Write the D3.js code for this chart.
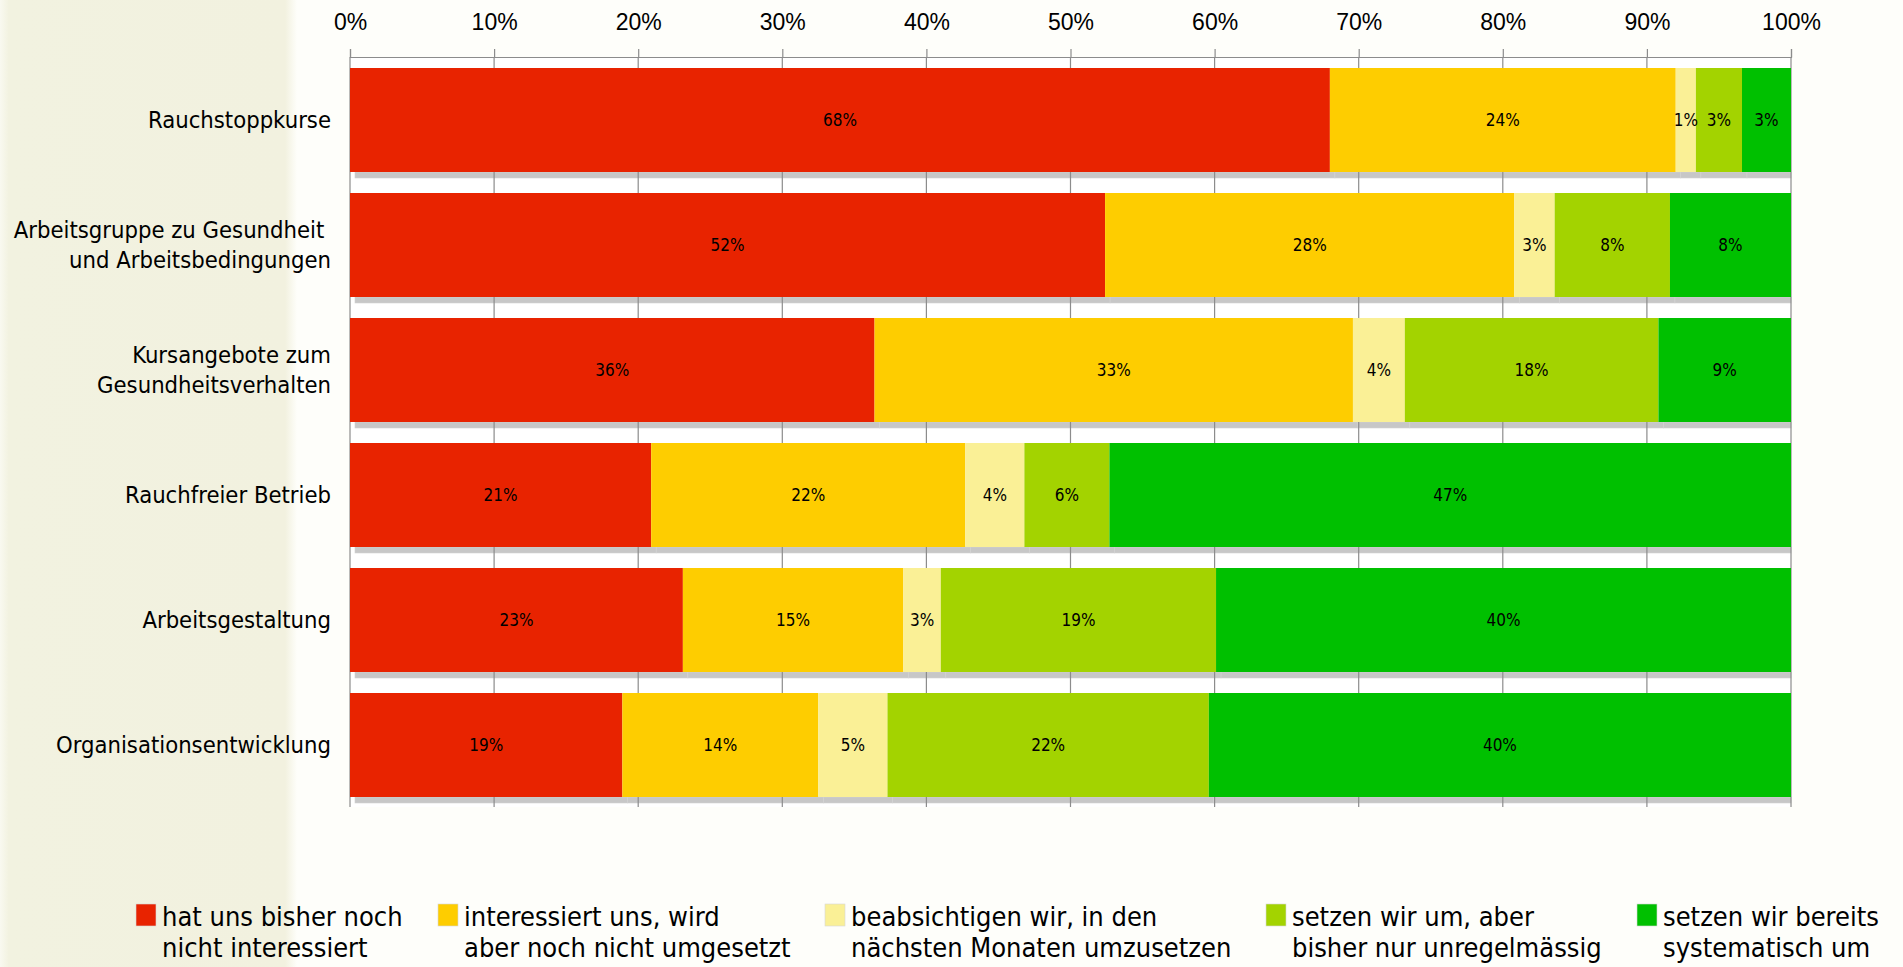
<!DOCTYPE html>
<html>
<head>
<meta charset="utf-8">
<script src="https://cdn.jsdelivr.net/npm/d3@7"></script>
<style>
  html, body { margin: 0; padding: 0; background: #fefefa; }
  svg { display: block; font-family: "DejaVu Sans Condensed", "DejaVu Sans", sans-serif; font-stretch: condensed; }
</style>
</head>
<body>
<svg id="chart" width="1903" height="967"></svg>
<script>
const categories = [
    ["Rauchstoppkurse"],
    ["Arbeitsgruppe zu Gesundheit ", "und Arbeitsbedingungen"],
    ["Kursangebote zum", "Gesundheitsverhalten"],
    ["Rauchfreier Betrieb"],
    ["Arbeitsgestaltung"],
    ["Organisationsentwicklung"]
];
const seriesNames = [
    ["hat uns bisher noch", "nicht interessiert"],
    ["interessiert uns, wird", "aber noch nicht umgesetzt"],
    ["beabsichtigen wir, in den", "nächsten Monaten umzusetzen"],
    ["setzen wir um, aber", "bisher nur unregelmässig"],
    ["setzen wir bereits", "systematisch um"]
];
const colors = ["#e82300", "#fecd00", "#faf096", "#a3d300", "#00c000"];
// one row per category, one value (%) per series
const values = [
    [68.0, 24.0, 1.4, 3.2, 3.4],
    [52.4, 28.4, 2.8, 8.0, 8.4],
    [36.4, 33.2, 3.6, 17.6, 9.2],
    [20.9, 21.8, 4.1, 5.9, 47.3],
    [23.1, 15.3, 2.6, 19.1, 39.9],
    [18.9, 13.6, 4.8, 22.3, 40.4]
];
const ticks = [0, 10, 20, 30, 40, 50, 60, 70, 80, 90, 100];

const svg = d3.select("#chart");

// beige label panel
const defs = svg.append("defs");
const grad = defs.append("linearGradient").attr("id", "panel");
grad.append("stop").attr("offset", "0%").attr("stop-color", "#f9f9f0");
grad.append("stop").attr("offset", "3%").attr("stop-color", "#f2f2e0");
grad.append("stop").attr("offset", "96%").attr("stop-color", "#f2f1df");
grad.append("stop").attr("offset", "100%").attr("stop-color", "#fefefa");
svg.append("rect").attr("x", 0).attr("y", 0).attr("width", 297).attr("height", 967)
    .attr("fill", "url(#panel)");

const x = d3.scaleLinear().domain([0, 100]).range([350, 1791]);
const y = d3.scaleBand()
    .domain(d3.range(categories.length))
    .range([68, 797])
    .paddingInner(21 / 125)
    .paddingOuter(0);

const gridTop = 57, gridBottom = 807;

svg.append("rect")
    .attr("x", x(0)).attr("y", gridTop)
    .attr("width", x(100) - x(0)).attr("height", gridBottom - gridTop)
    .attr("fill", "#ffffff");

const stacked = values.map((row, i) => {
    let acc = 0;
    return row.map((v, j) => {
        const seg = { row: i, series: j, x0: acc, x1: acc + v, v: v };
        acc += v;
        return seg;
    });
}).flat();

// shadows under bars, cut at the right edge of the plot
svg.append("g").selectAll("rect")
    .data(stacked)
    .join("rect")
    .attr("x", d => x(d.x0) + 5)
    .attr("y", d => y(d.row) + y.bandwidth())
    .attr("width", d => Math.max(0, Math.min(x(d.x1) + 5, x(100)) - x(d.x0) - 5))
    .attr("height", 6)
    .attr("fill", "#c7c7c7")
    .attr("stroke", "#d2d2d2")
    .attr("stroke-width", 0.6);

// gridlines
svg.append("g").selectAll("line")
    .data(ticks)
    .join("line")
    .attr("x1", d => x(d)).attr("x2", d => x(d))
    .attr("y1", gridTop).attr("y2", gridBottom)
    .attr("stroke", "#8c8c8c")
    .attr("stroke-width", 1.2);

// top axis
const axis = svg.append("g")
    .attr("transform", `translate(0,${gridTop})`)
    .call(d3.axisTop(x)
        .tickValues(ticks)
        .tickSize(8)
        .tickPadding(19)
        .tickFormat(d => d + "%"));
axis.select(".domain").attr("stroke", "#8c8c8c").attr("stroke-width", 1.2);
axis.selectAll(".tick line").attr("stroke", "#8c8c8c").attr("stroke-width", 1.2);
axis.selectAll(".tick text")
    .attr("font-size", 23)
    .attr("font-family", null)
    .attr("fill", "#000");

// bars
svg.append("g").selectAll("rect")
    .data(stacked)
    .join("rect")
    .attr("x", d => x(d.x0))
    .attr("y", d => y(d.row))
    .attr("width", d => x(d.x1) - x(d.x0))
    .attr("height", y.bandwidth())
    .attr("fill", d => colors[d.series]);

// value labels
svg.append("g").selectAll("text")
    .data(stacked)
    .join("text")
    .attr("x", d => (x(d.x0) + x(d.x1)) / 2)
    .attr("y", d => y(d.row) + y.bandwidth() / 2)
    .attr("dy", "0.36em")
    .attr("text-anchor", "middle")
    .attr("font-size", 17)
    .attr("fill", "#000")
    .text(d => Math.round(d.v) + "%");

// category labels
const catText = svg.append("g").selectAll("text")
    .data(categories)
    .join("text")
    .attr("text-anchor", "end")
    .attr("font-size", 23.6)
    .attr("fill", "#000")
    .style("white-space", "pre");
catText.each(function(lines, i) {
    const cy = y(i) + y.bandwidth() / 2;
    d3.select(this).selectAll("tspan")
        .data(lines)
        .join("tspan")
        .attr("x", 331)
        .attr("y", (d, k) => cy + (k - (lines.length - 1) / 2) * 30)
        .attr("dy", "0.36em")
        .text(d => d);
});

// legend
const legendX = [136, 438, 825, 1266, 1637];
const legend = svg.append("g").selectAll("g")
    .data(seriesNames)
    .join("g")
    .attr("transform", (d, i) => `translate(${legendX[i]},904)`);
legend.append("rect")
    .attr("width", 20).attr("height", 22)
    .attr("fill", (d, i) => colors[i])
    .attr("stroke", "#d8d8d8")
    .attr("stroke-width", 0.6);
legend.append("text")
    .attr("font-size", 27)
    .attr("fill", "#000")
    .selectAll("tspan")
    .data(d => d)
    .join("tspan")
    .attr("x", 26)
    .attr("y", (d, k) => 22 + k * 31)
    .text(d => d);
</script>
</body>
</html>
